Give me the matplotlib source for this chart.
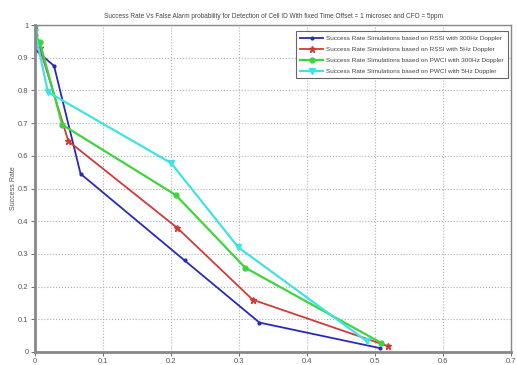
import matplotlib
matplotlib.use("Agg")
import matplotlib.pyplot as plt

plt.rcParams['font.family'] = ['Liberation Sans Narrow', 'Liberation Sans', 'DejaVu Sans']

# false alarm probability (x) and success rate (y) per series
rssi300_x = [0.0, 0.0, 0.028, 0.067, 0.22, 0.33, 0.507]
rssi300_y = [1.0, 0.925, 0.875, 0.545, 0.28, 0.09, 0.012]
rssi5_x = [0.0, 0.0, 0.007, 0.049, 0.209, 0.32, 0.519]
rssi5_y = [1.0, 0.95, 0.93, 0.645, 0.38, 0.16, 0.018]
pwci300_x = [0.0, 0.0, 0.007, 0.04, 0.207, 0.309, 0.509]
pwci300_y = [1.0, 0.97, 0.948, 0.695, 0.48, 0.258, 0.028]
pwci5_x = [0.0, 0.0, 0.019, 0.2, 0.299, 0.488]
pwci5_y = [1.0, 0.98, 0.795, 0.578, 0.32, 0.033]

labels = ["Success Rate Simulations based on RSSI with 300Hz Doppler",
          "Success Rate Simulations based on RSSI with 5Hz Doppler",
          "Success Rate Simulations based on PWCI with 300Hz Doppler",
          "Success Rate Simulations based on PWCI with 5Hz Doppler"]

fig = plt.figure(figsize=(5.17, 3.65), dpi=100)
ax = fig.add_axes([35 / 517, 13 / 365, 476 / 517, 327 / 365])

ax.plot(rssi300_x, rssi300_y, color='#2a2ab8', marker='.', ms=4, lw=1.3, label=labels[0])
ax.plot(rssi5_x, rssi5_y, color='#d23a3a', marker='*', ms=4.5, lw=1.3, label=labels[1])
ax.plot(pwci300_x, pwci300_y, color='#3fd43f', marker='o', ms=3.5, lw=1.6, label=labels[2])
ax.plot(pwci5_x, pwci5_y, color='#3fe3e3', marker='v', ms=4.5, lw=1.6, label=labels[3])

ax.set_xlim(0, 0.7)
ax.set_ylim(0, 1)
ax.set_xticks([0, 0.1, 0.2, 0.3, 0.4, 0.5, 0.6, 0.7])
ax.set_xticklabels(['0', '0.1', '0.2', '0.3', '0.4', '0.5', '0.6', '0.7'])
ax.set_yticks([0, 0.1, 0.2, 0.3, 0.4, 0.5, 0.6, 0.7, 0.8, 0.9, 1])
ax.set_yticklabels(['0', '0.1', '0.2', '0.3', '0.4', '0.5', '0.6', '0.7', '0.8', '0.9', '1'])
ax.grid(True, linestyle=':', color='#b0b0b0', lw=0.8)
ax.tick_params(labelsize=5.5, colors='#555555', length=3, width=0.6, pad=1.5)
for s in ax.spines.values():
    s.set_color('#888888')
    s.set_linewidth(1.0)
ax.spines['left'].set_linewidth(2.0)
ax.spines['bottom'].set_linewidth(2.0)

ax.set_ylabel("Success Rate", fontsize=5, color='#555555', labelpad=1)
ax.set_title("Success Rate Vs False Alarm probability for Detection of Cell ID With fixed Time Offset = 1 microsec and CFO = 5ppm",
             fontsize=4.7, color='#444444', pad=5)

leg = ax.legend(loc='upper right', fontsize=4.6, handlelength=3.6, borderpad=0.6,
                labelspacing=0.9, handletextpad=0.5, fancybox=False, framealpha=1,
                bbox_to_anchor=(1.0, 0.99))
leg.get_frame().set_edgecolor('#666666')
leg.get_frame().set_linewidth(0.8)
for t in leg.get_texts():
    t.set_color('#444444')

fig.savefig('out.png', dpi=100)
